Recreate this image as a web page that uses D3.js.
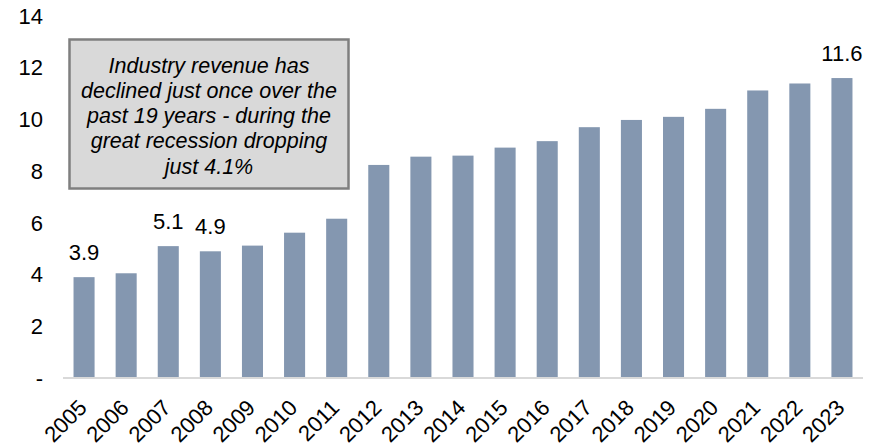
<!DOCTYPE html>
<html>
<head>
<meta charset="utf-8">
<script src="https://cdn.jsdelivr.net/npm/d3@7"></script>
<style>
  html, body { margin: 0; padding: 0; background: #ffffff; }
  svg { display: block; font-family: "Liberation Sans", Arial, sans-serif; }
</style>
</head>
<body>
<svg id="chart" width="881" height="446"></svg>
<script>
// Industry revenue by year
const years = ["2005","2006","2007","2008","2009","2010","2011","2012","2013","2014",
               "2015","2016","2017","2018","2019","2020","2021","2022","2023"];
const revenue = [3.9, 4.05, 5.1, 4.9, 5.12, 5.62, 6.16, 8.24, 8.56, 8.6,
                 8.91, 9.16, 9.7, 9.98, 10.1, 10.41, 11.12, 11.39, 11.6];
// Years that carry a value label
const labelledYears = ["2005", "2007", "2008", "2023"];
const yTicks = [0, 2, 4, 6, 8, 10, 12, 14];
const noteLines = [
  "Industry revenue has",
  "declined just once over the",
  "past 19 years - during the",
  "great recession dropping",
  "just 4.1%"
];

const W = 881, H = 446;
const margin = { top: 16, right: 18, bottom: 68, left: 63 };
const svg = d3.select("#chart");

const x = d3.scaleBand()
  .domain(years)
  .range([margin.left, W - margin.right])
  .paddingInner(0.5)
  .paddingOuter(0.25);

const y = d3.scaleLinear()
  .domain([0, 14])
  .range([H - margin.bottom, margin.top]);

// Y axis labels (no axis line, no ticks)
svg.append("g")
  .selectAll("text")
  .data(yTicks)
  .join("text")
  .attr("x", margin.left - 20)
  .attr("y", d => y(d))
  .attr("dy", "0.35em")
  .attr("text-anchor", "end")
  .attr("font-size", 22)
  .attr("fill", "#000")
  .text(d => d === 0 ? "-" : d);

// Bars
svg.append("g")
  .selectAll("rect")
  .data(years)
  .join("rect")
  .attr("x", d => x(d))
  .attr("width", x.bandwidth())
  .attr("y", (d, i) => y(revenue[i]))
  .attr("height", (d, i) => y(0) - y(revenue[i]))
  .attr("fill", "#8497B0");

// Baseline
svg.append("line")
  .attr("x1", margin.left)
  .attr("x2", W - margin.right)
  .attr("y1", y(0))
  .attr("y2", y(0))
  .attr("stroke", "#d9d9d9")
  .attr("stroke-width", 2);

// Rotated year labels
svg.append("g")
  .selectAll("text")
  .data(years)
  .join("text")
  .attr("transform", d => `translate(${x(d) + x.bandwidth() / 2 + 4},${y(0) + 31}) rotate(-45)`)
  .attr("text-anchor", "end")
  .attr("font-size", 22)
  .attr("fill", "#000")
  .text(d => d);

// Value labels
svg.append("g")
  .selectAll("text")
  .data(labelledYears)
  .join("text")
  .attr("x", d => x(d) + x.bandwidth() / 2)
  .attr("y", d => y(revenue[years.indexOf(d)]) - 17)
  .attr("text-anchor", "middle")
  .attr("font-size", 22)
  .attr("fill", "#000")
  .text(d => revenue[years.indexOf(d)].toFixed(1));

// Note box
const box = { x: 69.5, y: 39.5, w: 279, h: 149 };
svg.append("rect")
  .attr("x", box.x)
  .attr("y", box.y)
  .attr("width", box.w)
  .attr("height", box.h)
  .attr("fill", "#d9d9d9")
  .attr("stroke", "#7f7f7f")
  .attr("stroke-width", 2.5);

svg.append("text")
  .attr("text-anchor", "middle")
  .attr("font-size", 21.5)
  .attr("font-style", "italic")
  .attr("fill", "#000")
  .selectAll("tspan")
  .data(noteLines)
  .join("tspan")
  .attr("x", box.x + box.w / 2)
  .attr("y", (d, i) => 65 + i * 25.3)
  .attr("dy", "0.35em")
  .text(d => d);
</script>
</body>
</html>
